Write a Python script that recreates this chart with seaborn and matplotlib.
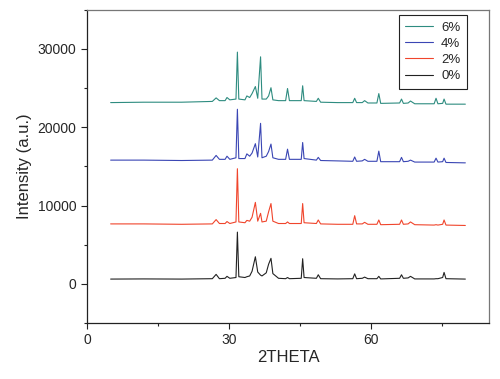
import pandas as pd
import seaborn as sns
import matplotlib.pyplot as plt
from matplotlib.ticker import MultipleLocator

# peak / baseline vertices (2theta, intensity)
two_theta = [5, 12, 20, 26.5, 27.3, 28.0, 29.2, 29.6, 30.2, 31.5, 31.8, 32.1, 33.4, 33.8,
             34.4, 34.9, 35.6, 36.1, 36.7, 37.0, 37.9, 38.4, 38.9, 39.3, 40.5, 42.0, 42.4,
             42.8, 45.3, 45.6, 45.9, 48.5, 48.9, 49.4, 53.0, 56.2, 56.6, 57.0, 58.2, 58.7,
             59.4, 61.3, 61.7, 62.1, 66.1, 66.5, 66.9, 67.9, 68.4, 69.3, 73.4, 73.8, 74.2,
             75.2, 75.5, 75.9, 80]

int_0 = [600, 620, 600, 650, 1200, 650, 700, 950, 700, 800, 6600, 900, 800, 900,
         1000, 1600, 3450, 1500, 1100, 1000, 1400, 2500, 3250, 1300, 700, 650, 800,
         650, 700, 3200, 800, 700, 1150, 650, 620, 650, 1270, 650, 700, 850,
         650, 650, 950, 620, 700, 1150, 700, 750, 950, 620, 620, 650, 650,
         800, 1450, 650, 600]

int_2 = [7650, 7650, 7600, 7650, 8200, 7700, 7700, 7950, 7700, 7900, 14700, 7900, 7800, 8100,
         8000, 8500, 10400, 8000, 9000, 7900, 8000, 9200, 10250, 8000, 7700, 7700, 7900,
         7700, 7700, 10250, 7800, 7700, 8150, 7650, 7600, 7600, 8700, 7650, 7650, 7850,
         7600, 7600, 8150, 7550, 7600, 8150, 7600, 7650, 7900, 7550, 7500, 7550, 7500,
         7600, 8150, 7500, 7450]

int_4 = [15800, 15800, 15750, 15800, 16400, 15900, 15900, 16300, 15900, 16100, 22300, 16000, 16000, 16600,
         16300, 16700, 17900, 16200, 20500, 16100, 16300, 16900, 17850, 16100, 15900, 15900, 17200,
         15900, 15900, 18050, 16000, 15800, 16150, 15750, 15700, 15650, 16200, 15650, 15700, 15900,
         15650, 15650, 16950, 15600, 15600, 16150, 15600, 15650, 15800, 15550, 15550, 16050, 15550,
         15600, 16050, 15500, 15450]

int_6 = [23150, 23200, 23200, 23300, 23750, 23400, 23400, 23800, 23500, 23600, 29600, 23600, 23500, 24000,
         23800, 24300, 25200, 23700, 29000, 23600, 23600, 24000, 25050, 23500, 23400, 23400, 24950,
         23400, 23400, 25300, 23400, 23300, 23700, 23200, 23150, 23150, 23700, 23150, 23150, 23400,
         23100, 23100, 24300, 23050, 23100, 23600, 23050, 23100, 23350, 23000, 23000, 23700, 23000,
         23050, 23600, 22950, 22950]

labels = ["6%", "4%", "2%", "0%"]
colors = ["#2e8c80", "#3a46b4", "#f0452c", "#222222"]

df = pd.DataFrame({"2theta": two_theta, "6%": int_6, "4%": int_4, "2%": int_2, "0%": int_0})
df = df.melt(id_vars="2theta", var_name="sample", value_name="intensity")

sns.set_style("ticks")
plt.rcParams["font.family"] = ["Liberation Sans", "DejaVu Sans"]

fig = plt.figure(figsize=(5, 3.79), dpi=100)
ax = fig.add_axes([0.174, 0.148, 0.804, 0.826])

sns.lineplot(data=df, x="2theta", y="intensity", hue="sample", hue_order=labels,
             palette=colors, linewidth=0.8, estimator=None, sort=False, ax=ax)

ax.set_xlim(0, 85)
ax.set_ylim(-5000, 35000)
ax.xaxis.set_major_locator(MultipleLocator(30))
ax.xaxis.set_minor_locator(MultipleLocator(15))
ax.yaxis.set_major_locator(MultipleLocator(10000))
ax.yaxis.set_minor_locator(MultipleLocator(5000))
ax.tick_params(which="major", length=4, width=0.8, labelsize=10, color="#222222")
ax.tick_params(which="minor", length=2.5, width=0.8, color="#222222")
for s in ax.spines.values():
    s.set_color("#222222")
    s.set_linewidth(0.9)
ax.spines["right"].set_color("#777777")
ax.spines["top"].set_color("#777777")

ax.set_xlabel("2THETA", fontsize=12, labelpad=2)
ax.set_ylabel("Intensity (a.u.)", fontsize=12, labelpad=4)

leg = ax.legend(loc="upper right", bbox_to_anchor=(0.945, 0.984), borderaxespad=0,
                fontsize=9.5, handlelength=2.1, handletextpad=0.6, fancybox=False,
                framealpha=1, edgecolor="#222222", labelspacing=0.3, borderpad=0.5)
leg.get_frame().set_linewidth(0.8)
leg.set_title(None)

fig.savefig("out.png", dpi=100)
